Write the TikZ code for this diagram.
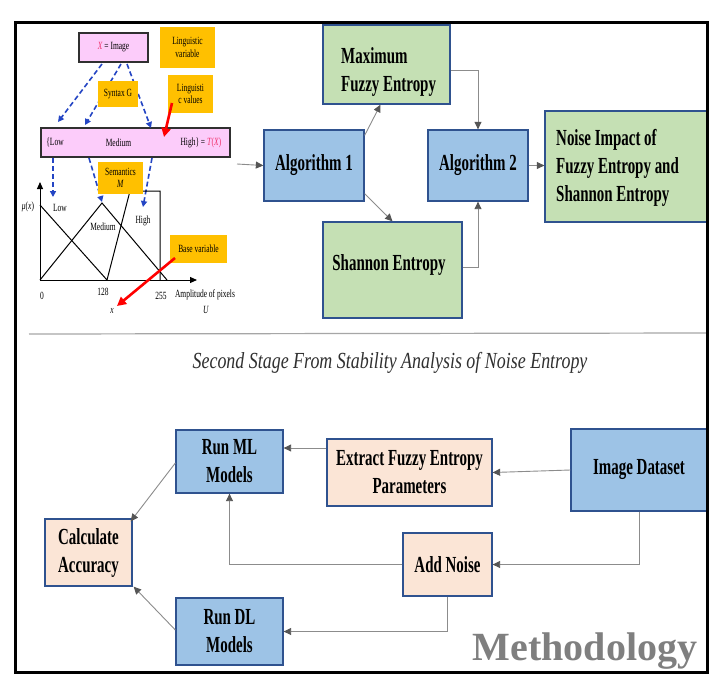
\documentclass[tikz,border=0pt]{standalone}
\usepackage{fontspec}
\setmainfont{Liberation Serif}
\newfontfamily\cnd[FakeStretch=0.65]{Liberation Serif}
\newfontfamily\sml[FakeStretch=0.68]{Liberation Serif}
\newfontfamily\ttl[FakeStretch=0.78]{Liberation Serif}
\usetikzlibrary{arrows.meta}
\definecolor{bluef}{HTML}{9DC3E6}
\definecolor{greenf}{HTML}{C5E0B4}
\definecolor{peachf}{HTML}{FBE5D6}
\definecolor{bordc}{HTML}{2F528F}
\definecolor{orangec}{HTML}{FFC000}
\definecolor{pinkc}{HTML}{FCCCFA}
\definecolor{pinkb}{HTML}{303030}
\definecolor{dblue}{HTML}{2445C4}
\definecolor{connc}{HTML}{8C8C8C}
\definecolor{tipc}{HTML}{555555}
\definecolor{xred}{HTML}{F0306A}
\definecolor{sepc}{HTML}{A6A6A6}
\definecolor{methc}{HTML}{7F7F7F}
\definecolor{titc}{HTML}{303030}
\begin{document}
\begin{tikzpicture}[x=1pt,y=-1pt,
  conn/.style={draw=connc, line width=0.9pt, -{Triangle[length=7.5pt,width=7pt,color=tipc,fill=tipc]}},
  bx/.style={draw=bordc, line width=1.3pt, inner sep=0pt, align=center, font=\cnd\bfseries\fontsize{23}{28}\selectfont},
  txt/.style={inner sep=0pt, align=left, font=\cnd\bfseries\fontsize{23}{28}\selectfont},
  obox/.style={fill=orangec, inner sep=0pt, align=center, font=\sml\fontsize{11}{12.5}\selectfont},
  pbox/.style={fill=pinkc, draw=pinkb, line width=1.2pt, inner sep=0pt},
  lab/.style={inner sep=0pt, font=\sml\fontsize{11}{12.5}\selectfont},
  dsh/.style={draw=dblue, line width=1.6pt, dash pattern=on 5pt off 3pt, -{Triangle[length=6pt,width=6pt,color=dblue,fill=dblue]}},
  redar/.style={draw=red, line width=2.6pt, -{Triangle[length=9pt,width=9pt,color=red,fill=red]}},
  mline/.style={draw=black, line width=1pt}]
\useasboundingbox (0,0) rectangle (720,691);
\fill[white] (0,0) rectangle (720,691);

% ---------- fuzzy diagram ----------
\node[pbox, minimum width=69pt, minimum height=29pt] (ximg) at (113.5,47.5) {};
\node[lab] (ximgt) at (113.5,47.5) {\textcolor{xred}{\textit{X}} = Image};
\node[pbox, minimum width=189pt, minimum height=29pt] (tx) at (135.5,142.5) {};
\node[lab] (lowt) at (55,142.5) {\{Low};
\node[lab] (medt) at (118.5,142.5) {Medium};
\node[lab] (hight) at (201,142.5) {High\} = \textcolor{xred}{\textit{T}(\textit{X})}};

\draw[dsh] (102,64) -- (58,122);
\draw[dsh] (121,64) -- (85,125);
\draw[dsh] (127,64) -- (151,128);
\draw[dsh] (53,158) -- (53,197);
\draw[dsh] (89,158) -- (102,202);
\draw[dsh] (152,158) -- (143,207);

% graph
\draw[mline, -{Triangle[length=7pt,width=6pt]}] (40,280) -- (40,182);
\draw[mline, -{Triangle[length=7pt,width=6pt]}] (40,280) -- (197,280);
\draw[mline] (40,205) -- (107,280);
\draw[mline] (40,280) -- (102,203) -- (167,280);
\draw[mline] (107,280) -- (130,191) -- (160,191) -- (160,280);

\node[lab] (mux) at (28,207) {\textit{μ}(\textit{x})};
\node[lab] (lowl) at (60,208) {Low};
\node[lab] (medl) at (103,227) {Medium};
\node[lab] (highl) at (143,221) {High};
\node[lab] (t0) at (42,296) {0};
\node[lab] (t128) at (103,292) {128};
\node[lab] (t255) at (161,296) {255};
\node[lab] (ampl) at (205,295) {Amplitude of pixels};
\node[lab] (ul) at (206,310) {\textit{U}};
\node[lab] (xl) at (112,311) {\textit{x}};

% orange boxes
\node[obox, minimum width=55pt, minimum height=41pt] (lv) at (187.5,47.5) {Linguistic\\variable};
\node[obox, minimum width=40pt, minimum height=26pt] (syn) at (118,94) {Syntax G};
\node[obox, minimum width=45pt, minimum height=38pt] (lval) at (190.5,94) {Linguisti\\c values};
\node[obox, minimum width=45pt, minimum height=32pt] (sem) at (120.5,178) {Semantics\\\textit{M}};
\node[obox, minimum width=57pt, minimum height=28pt] (bv) at (198.5,249) {Base variable};

\draw[redar] (172,103) -- (164,137);
\draw[redar] (175,258) -- (117,306);

% ---------- first stage ----------
\node[bx, fill=greenf, minimum width=127pt, minimum height=79pt] (maxe) at (386.5,64.5) {};
\node[txt, anchor=north west] (maxt) at (341,47) {Maximum\\Fuzzy Entropy};
\node[bx, fill=bluef, minimum width=100pt, minimum height=71pt] (alg1) at (314,165.5) {Algorithm 1};
\node[bx, fill=bluef, minimum width=100pt, minimum height=71pt] (alg2) at (478,165.5) {Algorithm 2};
\node[bx, fill=greenf, minimum width=139pt, minimum height=96pt] (shan) at (392.5,270) {};
\node[txt] (shant) at (389,265) {Shannon Entropy};
\node[bx, fill=greenf, minimum width=162pt, minimum height=111pt] (noi) at (626,166.5) {};
\node[txt, anchor=north west] (noit) at (556,129) {Noise Impact of\\Fuzzy Entropy and\\Shannon Entropy};

\coordinate (fz) at (237,164);
\draw[conn] (fz) -- (alg1.west);
\draw[conn] ([yshift=-6pt]alg1.north east) -- ([xshift=-6pt]maxe.south);
\draw[conn] ([yshift=8pt]alg1.south east) -- (shan.north);
\draw[conn] ([yshift=-5.5pt]maxe.east) -| (alg2.north);
\draw[conn] ([yshift=3pt]shan.east) -| (alg2.south);
\draw[conn] (alg2.east) -- (noi.west |- alg2.east);

% separator and title
\draw[sepc, line width=1.2pt] (29,334) -- (707,333);
\node[inner sep=0pt, text=titc, font=\ttl\itshape\fontsize{23}{26}\selectfont] (title) at (390,363) {Second Stage From Stability Analysis of Noise Entropy};

% ---------- second stage ----------
\node[bx, fill=bluef, minimum width=107pt, minimum height=63pt] (ml) at (229.5,461.5) {Run ML\\Models};
\node[bx, fill=peachf, minimum width=165pt, minimum height=67pt] (ext) at (409.5,472.5) {Extract Fuzzy Entropy\\Parameters};
\node[bx, fill=bluef, minimum width=136pt, minimum height=82pt] (img) at (639,470) {Image Dataset};
\node[bx, fill=peachf, minimum width=87pt, minimum height=67pt] (calc) at (88.5,552.5) {Calculate\\Accuracy};
\node[bx, fill=peachf, minimum width=89pt, minimum height=63pt] (nse) at (447.5,564.5) {Add Noise};
\node[bx, fill=bluef, minimum width=107pt, minimum height=67pt] (dl) at (229.5,631.5) {Run DL\\Models};

\draw[conn] (img.west) -- (ext.east);
\draw[conn] (ext.west |- 0,448) -- (ml.east |- 0,448);
\draw[conn] (img.south) |- (nse.east);
\draw[conn] (nse.west) -| (ml.south);
\draw[conn] (nse.south) |- (dl.east);
\draw[conn] ([yshift=-1.5pt]ml.west) -- ([xshift=-2pt,yshift=-3pt]calc.north east);
\draw[conn] ([yshift=1.5pt]dl.west) -- ([xshift=1pt]calc.south east);

\node[inner sep=0pt, anchor=base, text=methc, font=\bfseries\fontsize{40}{44}\selectfont] (meth) at (585,660) {Methodology};

% frame
\draw[line width=3pt] (15.5,22.5) rectangle (707,672.5);
\end{tikzpicture}
\end{document}
